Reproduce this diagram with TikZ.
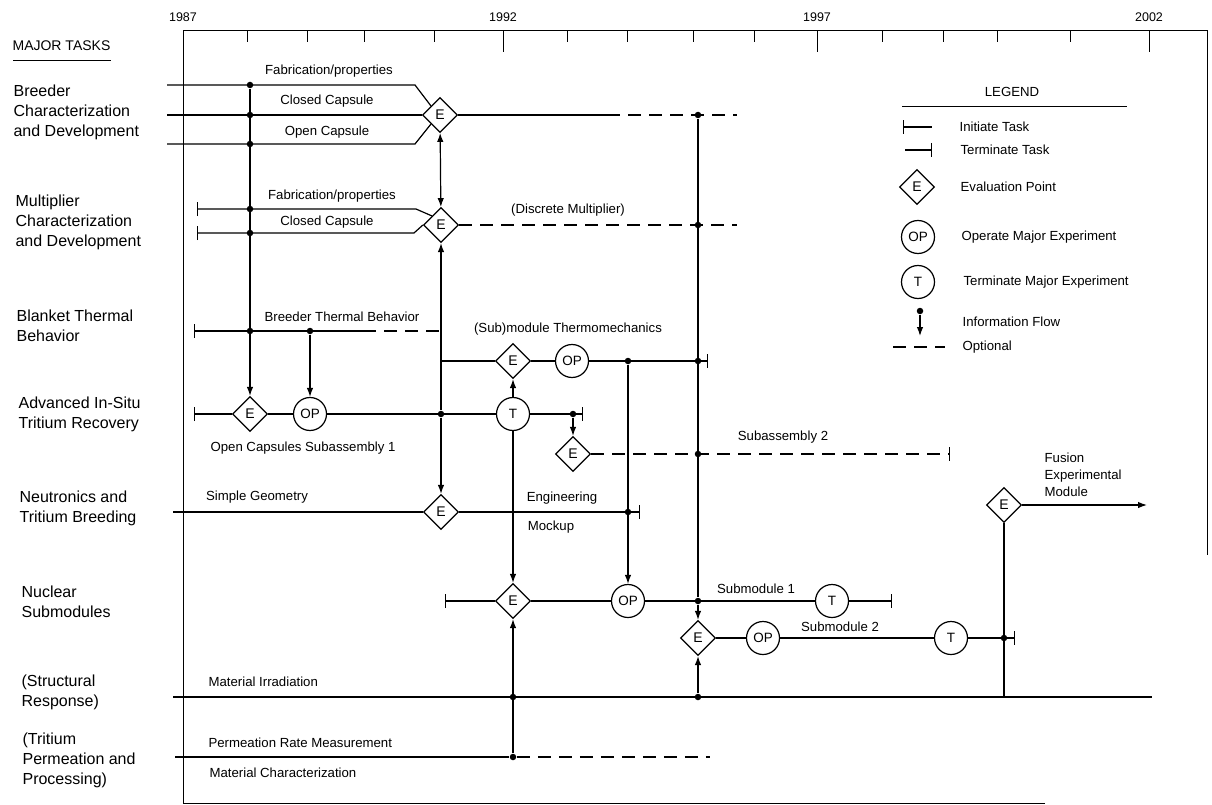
\documentclass[tikz,border=0pt]{standalone}
\usepackage{fontspec}
\setmainfont{Liberation Sans}
\usepackage{tikz}
\usetikzlibrary{shapes.geometric,arrows.meta}

\begin{document}
\begin{tikzpicture}[x=1pt,y=-1pt,line width=1.2pt,font=\fontsize{13.2}{15}\selectfont,
    evp/.style={diamond,draw,fill=white,minimum width=35pt,minimum height=35pt,inner sep=0pt,font=\fontsize{14}{15}\selectfont},
    mxp/.style={circle,draw,fill=white,minimum size=33pt,inner sep=0pt,font=\fontsize{13.5}{15}\selectfont},
    jn/.style={circle,fill,inner sep=0pt,minimum size=6.5pt},
    ini/.style={{Bar[width=14pt]}-},
    fin/.style={-{Bar[width=14pt]}},
    flow/.style={-{Latex[length=9pt,width=6.5pt]}},
    flowb/.style={{Latex[length=9pt,width=6.5pt]}-{Latex[length=9pt,width=6.5pt]}},
    opt/.style={dash pattern=on 13pt off 8pt},
    lbl/.style={inner sep=0pt},
    task/.style={anchor=west,align=left,inner sep=0pt,font=\fontsize{16}{20}\selectfont},
    yr/.style={font=\fontsize{12.5}{13}\selectfont}]
  \useasboundingbox (0,0) rectangle (1212,805);
  \draw[line width=1pt] (1045,803) -- (183,803) -- (183,31) -- (1207,31) -- (1207,555);
  \foreach \x in {247,307,364,434,567,627,693,754,882,943,997,1070}
    \draw[line width=1pt] (\x,31) -- (\x,42);
  \foreach \x/\yy in {183/1987,503/1992,817/1997,1149/2002}{
    \draw[line width=1pt] (\x,31) -- (\x,52);
    \node[yr] (y\yy) at (\x,17) {\yy};}
  % task names
  \node[anchor=west,inner sep=0pt,font=\fontsize{14}{16}\selectfont] (mt) at (12,46) {MAJOR TASKS};
  \draw[line width=1pt] (13,61) -- (111,61);
  \node[task] (tbreed) at (13,112) {Breeder\\Characterization\\and Development};
  \node[task] (tmult) at (15,222) {Multiplier\\Characterization\\and Development};
  \node[task] (tblank) at (16,326) {Blanket Thermal\\Behavior};
  \node[task] (tadv) at (18,414) {Advanced In-Situ\\Tritium Recovery};
  \node[task] (tneut) at (19,508) {Neutronics and\\Tritium Breeding};
  \node[task] (tnucl) at (21,602) {Nuclear\\Submodules};
  \node[task] (tstruc) at (21,692) {(Structural\\Response)};
  \node[task] (tperm) at (22,760) {(Tritium\\Permeation and\\Processing)};
  % events
  \node[evp] (E1) at (440,115) {E};
  \node[evp] (E2) at (441,225) {E};
  \node[evp] (Ea) at (250,414) {E};
  \node[mxp] (OPa) at (310,414) {OP};
  \node[mxp] (Ta) at (513,414) {T};
  \node[evp] (Et) at (513,361) {E};
  \node[mxp] (OPt) at (572,361) {OP};
  \node[evp] (Es) at (573,454) {E};
  \node[evp] (En) at (441,512) {E};
  \node[evp] (Ef) at (1004,505) {E};
  \node[evp] (Enu1) at (513,601) {E};
  \node[mxp] (OPn) at (628,601) {OP};
  \node[mxp] (T1) at (832,601) {T};
  \node[evp] (Enu2) at (698,638) {E};
  \node[mxp] (OPn2) at (763,638) {OP};
  \node[mxp] (T2) at (951,638) {T};
  % junctions
  \foreach \n/\x/\y in {b1/250/85,b2/250/115,b3/250/144,m1/250/209,m2/250/233,bt1/250/331,bt2/310/331,
      a1/441/414,a2/573/414,d1/698/115,d2/698/225,d3/698/361,d4/698/454,t1/628/361,n1/628/512,
      s1/698/601,r1/513/697,r2/698/697,p1/513/757,f1/1004/638}
    \node[jn] (\n) at (\x,\y) {};
  \coordinate (f0) at (1004,697);
  \coordinate (fend) at (1147,505);
  % breeder and multiplier
  \draw (167,85) -- (415,85) -- (E1.north west);
  \draw (167,115) -- (E1.west);
  \draw (167,144) -- (415,144) -- (E1.south west);
  \draw (E1.east) -- (607,115);
  \draw[opt] (607,115) -- (737,115);
  \draw[ini] (197,209) -- (416,209) -- (E2.north west);
  \draw[ini] (197,233) -- (414,233) -- (E2.west);
  \draw[opt] (E2.east) -- (737,225);
  \draw[flowb] (E1) -- (E2);
  \draw (d1) -- (s1);
  % thermal and tritium recovery
  \draw[ini] (194,331) -- (363,331);
  \draw[opt,fin] (363,331) -- (441,331);
  \draw[flow] (b1) -- (Ea);
  \draw[flow] (bt2) -- (OPa);
  \draw[ini] (194,414) -- (Ea);
  \draw (Ea) -- (OPa) -- (Ta);
  \draw[fin] (Ta) -- (583,414);
  \draw[flow] (a2) -- (Es);
  \draw[opt,fin] (Es) -- (950,454);
  \draw[flow] (a1) -- (E2);
  \draw[flow] (a1) -- (En);
  \draw[flow] (Ta) -- (Et);
  \draw[flow] (Ta) -- (Enu1);
  \draw[ini] (441,361) -- (Et);
  \draw (Et) -- (OPt);
  \draw[fin] (OPt) -- (708,361);
  % neutronics
  \draw (173,512) -- (En);
  \draw[fin] (En) -- (640,512);
  \draw[flow] (t1) -- (OPn);
  \draw[flow] (Ef) -- (fend);
  % submodules
  \draw[ini] (445,601) -- (Enu1);
  \draw (Enu1) -- (OPn) -- (T1);
  \draw[fin] (T1) -- (892,601);
  \draw[flow] (s1) -- (Enu2);
  \draw (Enu2) -- (OPn2) -- (T2);
  \draw[fin] (T2) -- (1015,638);
  \draw (Ef) -- (f0);
  % structural and permeation
  \draw (173,697) -- (1152,697);
  \draw[flow] (r2) -- (Enu2);
  \draw[flow] (p1) -- (Enu1);
  \draw (175,757) -- (p1);
  \draw[opt] (p1) -- (710,757);
  % labels
  \node[lbl] (fab1) at (329,71) {Fabrication/properties};
  \node[lbl] (cc1) at (327,101) {Closed Capsule};
  \node[lbl] (oc1) at (327,132) {Open Capsule};
  \node[lbl] (fab2) at (332,196) {Fabrication/properties};
  \node[lbl] (cc2) at (327,222) {Closed Capsule};
  \node[lbl] (dm) at (568,210) {(Discrete Multiplier)};
  \node[lbl] (btb) at (342,317) {Breeder Thermal Behavior};
  \node[lbl] (smt) at (568,329) {(Sub)module Thermomechanics};
  \node[lbl] (ocs) at (303,448) {Open Capsules Subassembly 1};
  \node[lbl] (sa2) at (783,437) {Subassembly 2};
  \node[lbl] (sg) at (257,497) {Simple Geometry};
  \node[lbl] (eng) at (562,498) {Engineering};
  \node[lbl] (mck) at (551,527) {Mockup};
  \node[lbl,anchor=west,align=left,font=\fontsize{13.2}{17}\selectfont] (fem) at (1044,475) {Fusion\\Experimental\\Module};
  \node[lbl] (sm1) at (756,589) {Submodule 1};
  \node[lbl] (sm2) at (840,627) {Submodule 2};
  \node[lbl,anchor=west] (mi) at (208,682) {Material Irradiation};
  \node[lbl,anchor=west] (prm) at (208,743) {Permeation Rate Measurement};
  \node[lbl,anchor=west] (mc) at (209,773) {Material Characterization};
  % legend
  \node[lbl] (lghead) at (1012,92) {LEGEND};
  \draw[line width=1pt] (902,107) -- (1127,107);
  \draw[ini] (903,127) -- (932,127);
  \draw[fin] (905,150) -- (932,150);
  \node[evp] (lgE) at (917,187) {E};
  \node[mxp] (lgOP) at (918,237) {OP};
  \node[mxp] (lgT) at (918,282) {T};
  \node[jn] (lgdot) at (920,311) {};
  \coordinate (lgtip) at (920,336);
  \draw[flow] (lgdot) -- (lgtip);
  \draw[opt] (893,347) -- (945,347);
  \node[lbl,anchor=west] (lgi) at (959,127) {Initiate Task};
  \node[lbl,anchor=west] (lgt) at (960,150) {Terminate Task};
  \node[lbl,anchor=west] (lge) at (960,187) {Evaluation Point};
  \node[lbl,anchor=west] (lgo) at (961,237) {Operate Major Experiment};
  \node[lbl,anchor=west] (lgx) at (963,282) {Terminate Major Experiment};
  \node[lbl,anchor=west] (lgf) at (962,322) {Information Flow};
  \node[lbl,anchor=west] (lgp) at (962,347) {Optional};
\end{tikzpicture}
\end{document}
